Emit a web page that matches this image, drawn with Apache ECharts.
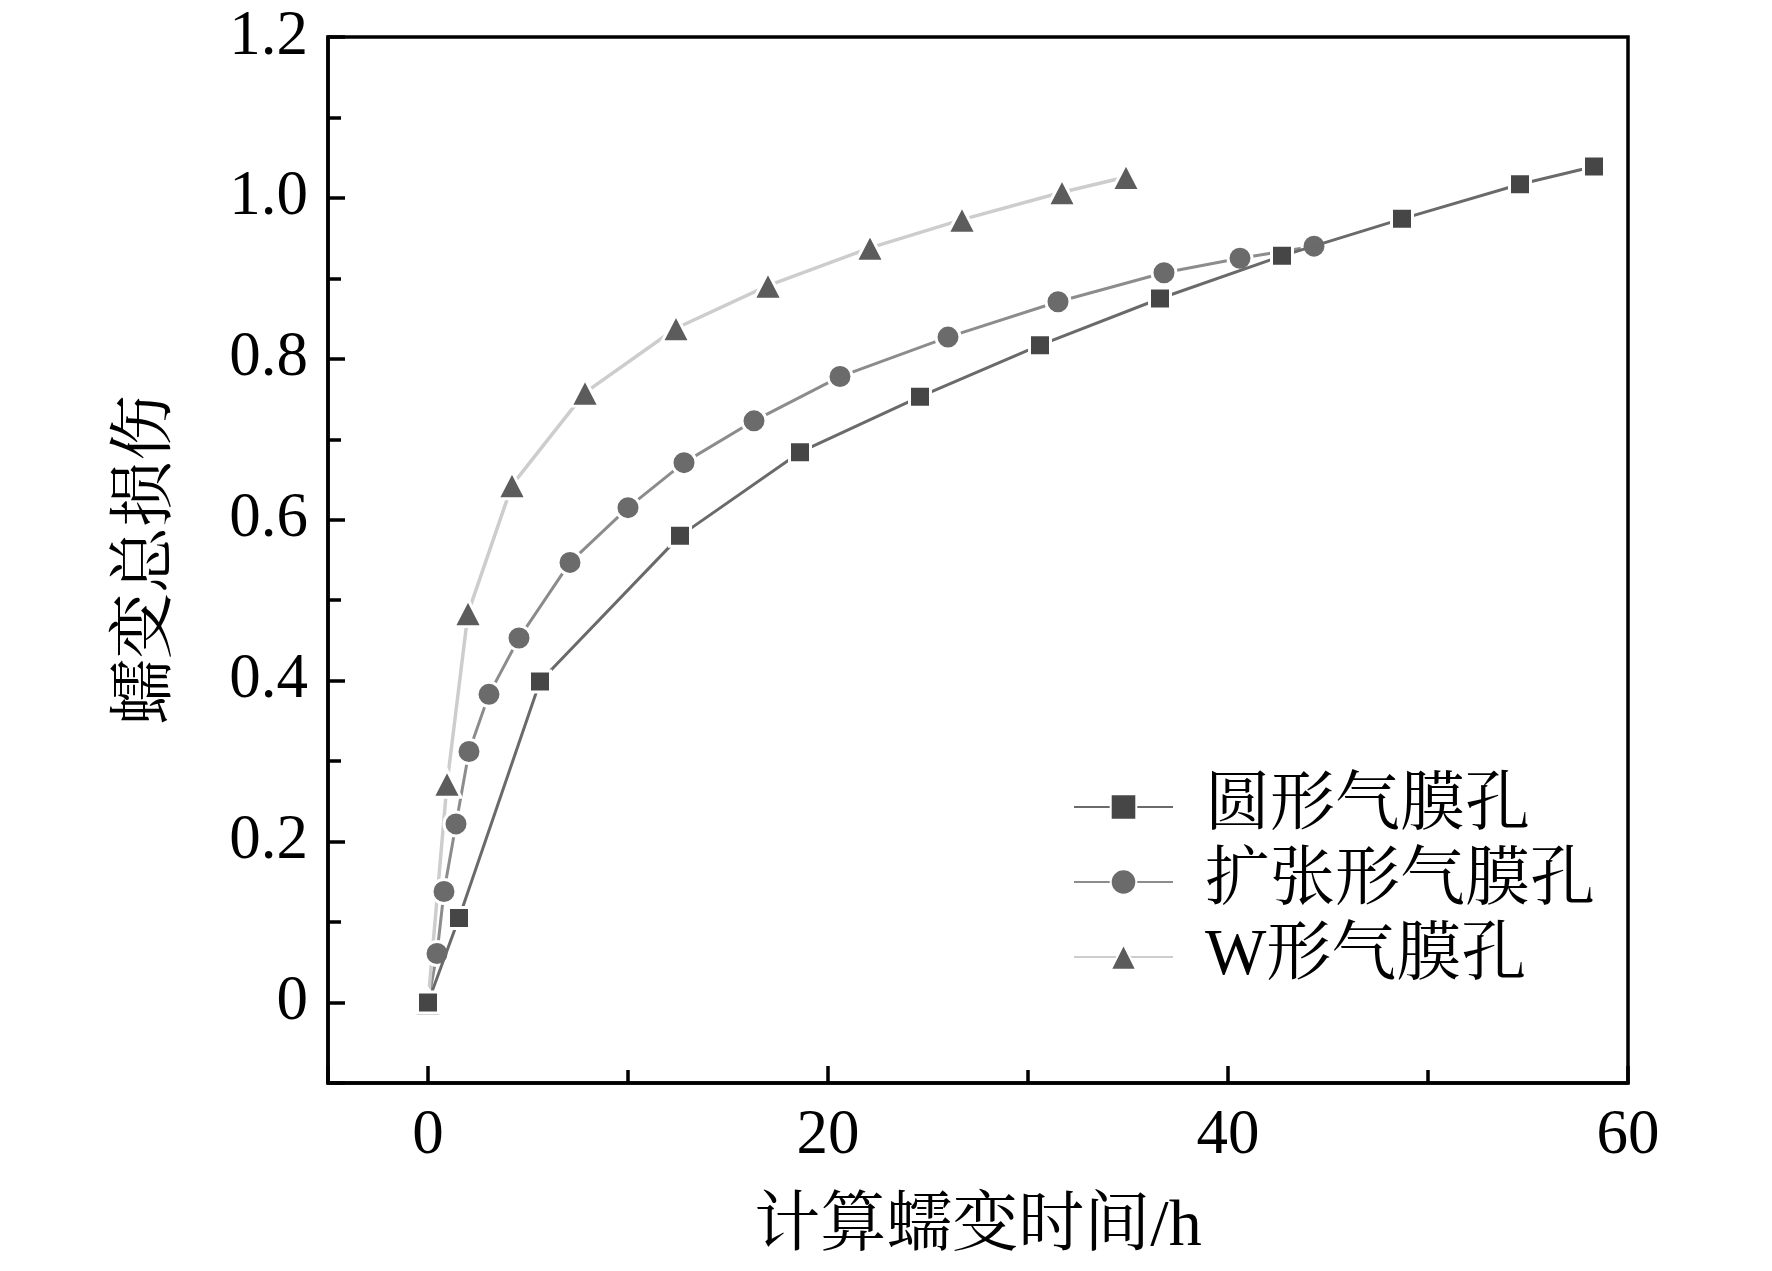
<!DOCTYPE html>
<html>
<head>
<meta charset="utf-8">
<script src="https://cdn.jsdelivr.net/npm/echarts@6/dist/echarts.min.js"></script>
<style>
  html, body { margin: 0; padding: 0; background: #fff; }
  #main { width: 1772px; height: 1271px; }
</style>
</head>
<body>
<div id="main"></div>
<script>
// 蠕变总损伤 - 计算蠕变时间

var seriesNames = ['圆形气膜孔', '扩张形气膜孔', 'W形气膜孔'];

// 圆形气膜孔
var roundX = [0, 1.55, 5.6, 12.6, 18.6, 24.6, 30.6, 36.6, 42.7, 48.7, 54.6, 58.3];
var roundY = [0, 0.105, 0.399, 0.580, 0.684, 0.753, 0.817, 0.875, 0.928, 0.974, 1.017, 1.039];

// 扩张形气膜孔
var fanX = [0, 0.45, 0.8, 1.4, 2.05, 3.05, 4.55, 7.1, 10.0, 12.8, 16.3, 20.6, 26.0, 31.5, 36.8, 40.6, 44.3];
var fanY = [0, 0.061, 0.138, 0.222, 0.312, 0.383, 0.453, 0.547, 0.615, 0.671, 0.723, 0.778, 0.827, 0.871, 0.907, 0.925, 0.940];

// W形气膜孔
var wX = [0, 0.95, 2.0, 4.2, 7.85, 12.4, 17.0, 22.1, 26.7, 31.7, 34.9];
var wY = [0, 0.272, 0.484, 0.643, 0.758, 0.838, 0.891, 0.938, 0.973, 1.007, 1.026];

var xMin = -5, xMax = 60;
var yMin = -0.1, yMax = 1.2;

function pairs(xs, ys) {
  var out = [];
  for (var i = 0; i < xs.length; i++) out.push([xs[i], ys[i]]);
  return out;
}

function onStep(v, step) {
  var r = v / step;
  return Math.abs(r - Math.round(r)) < 1e-6;
}

var numFont = '"Liberation Serif", "Times New Roman", serif';
var cjkFont = '"Liberation Serif", "Noto Serif CJK SC", "Noto Sans CJK SC", serif';

var mychart = echarts.init(document.getElementById('main'));

var option = {
  backgroundColor: '#fff',
  animation: false,
  grid: {
    left: 328,
    top: 37,
    width: 1300,
    height: 1046,
    show: true,
    borderColor: '#000',
    borderWidth: 3.5,
    outerBoundsMode: 'none'
  },
  legend: {
    orient: 'vertical',
    left: 1068,
    top: 769,
    itemWidth: 99,
    itemHeight: 32,
    itemGap: 9,
    data: seriesNames,
    textStyle: {
      fontFamily: cjkFont,
      fontSize: 65,
      lineHeight: 66,
      color: '#000',
      padding: [0, 0, 0, 27]
    }
  },
  xAxis: {
    type: 'value',
    min: xMin,
    max: xMax,
    splitNumber: 3,
    name: '计算蠕变时间/h',
    nameLocation: 'middle',
    nameGap: 112,
    nameTextStyle: { fontFamily: cjkFont, fontSize: 66, color: '#000' },
    axisLine: { onZero: false, lineStyle: { color: '#000', width: 3.5 } },
    axisTick: { inside: true, length: 17, lineStyle: { color: '#000', width: 3.5 } },
    minorTick: { show: true, splitNumber: 2, length: 13, lineStyle: { color: '#000', width: 3.5 } },
    splitLine: { show: false },
    axisLabel: {
      margin: 22,
      fontFamily: numFont,
      fontSize: 63,
      color: '#000',
      formatter: function (v) {
        return onStep(v, 20) ? String(Math.round(v)) : '';
      }
    }
  },
  yAxis: {
    type: 'value',
    min: yMin,
    max: yMax,
    splitNumber: 6,
    name: '蠕变总损伤',
    nameLocation: 'middle',
    nameGap: 147,
    nameTextStyle: { fontFamily: cjkFont, fontSize: 66, color: '#000' },
    axisLine: { onZero: false, lineStyle: { color: '#000', width: 3.5 } },
    axisTick: { inside: true, length: 17, lineStyle: { color: '#000', width: 3.5 } },
    minorTick: { show: true, splitNumber: 2, length: 13, lineStyle: { color: '#000', width: 3.5 } },
    splitLine: { show: false },
    axisLabel: {
      margin: 20,
      fontFamily: numFont,
      fontSize: 63,
      color: '#000',
      formatter: function (v) {
        if (!onStep(v, 0.2)) return '';
        return Math.abs(v) < 1e-9 ? '0' : v.toFixed(1);
      }
    }
  },
  series: [
    {
      name: seriesNames[0],
      type: 'line',
      data: pairs(roundX, roundY),
      symbol: 'rect',
      symbolSize: 21,
      showAllSymbol: true,
      z: 3,
      lineStyle: { color: '#6a6a6a', width: 3 },
      itemStyle: { color: '#464646', borderColor: '#fff', borderWidth: 3 }
    },
    {
      name: seriesNames[1],
      type: 'line',
      data: pairs(fanX, fanY),
      symbol: 'circle',
      symbolSize: 24,
      showAllSymbol: true,
      z: 2,
      lineStyle: { color: '#8c8c8c', width: 3 },
      itemStyle: { color: '#6b6b6b', borderColor: '#fff', borderWidth: 3 }
    },
    {
      name: seriesNames[2],
      type: 'line',
      data: pairs(wX, wY),
      symbol: 'triangle',
      symbolSize: [28, 27],
      showAllSymbol: true,
      z: 2,
      lineStyle: { color: '#cdcdcd', width: 3.5 },
      itemStyle: { color: '#5c5c5c', borderColor: '#fff', borderWidth: 3 }
    }
  ]
};

mychart.setOption(option);
</script>
</body>
</html>
